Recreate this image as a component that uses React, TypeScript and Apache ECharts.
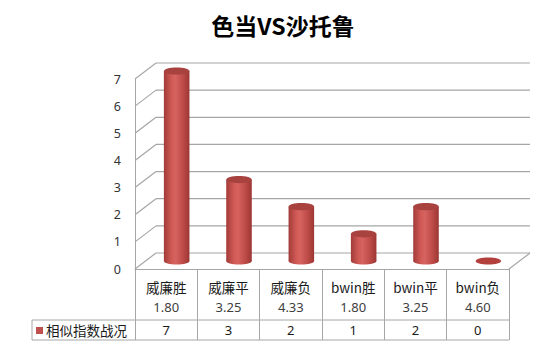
import React, { useEffect, useRef } from "react";
import * as echarts from "echarts";

const titleText = "色当VS沙托鲁";
const categories = ["威廉胜", "威廉平", "威廉负", "bwin胜", "bwin平", "bwin负"];
const odds = ["1.80", "3.25", "4.33", "1.80", "3.25", "4.60"];
const counts = [7, 3, 2, 1, 2, 0];
const seriesName = "相似指数战况";
const yTicks = [0, 1, 2, 3, 4, 5, 6, 7];

const DX = 21;
const DY = -16;
const HALF_DX = 10.5;
const HALF_DY = -8;
const GRID_COLOR = "#a6a6a6";

export default function App() {
  const ref = useRef<HTMLDivElement>(null);
  useEffect(() => {
    if (!ref.current) return;
    const chart = echarts.init(ref.current, undefined, { renderer: "svg" });
    const bodyGrad = {
      type: "linear", x: 0, y: 0, x2: 1, y2: 0,
      colorStops: [
        { offset: 0, color: "#a23b38" },
        { offset: 0.3, color: "#d05a56" },
        { offset: 0.45, color: "#d6635f" },
        { offset: 0.75, color: "#bd4b47" },
        { offset: 1, color: "#9c3633" },
      ],
    };
    const option: any = {
      animation: false,
      backgroundColor: "#ffffff",
      title: {
        text: titleText,
        left: 278,
        textAlign: "center",
        top: 8,
        textStyle: { fontFamily: "Noto Sans CJK SC", fontSize: 23, fontWeight: "bold", color: "#000" },
      },
      grid: { left: 135, right: 41, top: 79, bottom: 78 },
      xAxis: [
        {
          type: "category",
          data: categories,
          boundaryGap: true,
          axisLine: { show: true, lineStyle: { color: GRID_COLOR, width: 1 } },
          axisTick: { show: true, interval: 0, length: 71, lineStyle: { color: GRID_COLOR, width: 1 } },
          axisLabel: {
            interval: 0,
            margin: 8,
            formatter: (v: string, i: number) => `{n|${v}}\n{o|${odds[i]}}`,
            rich: {
              n: { fontFamily: "Noto Sans CJK SC", fontSize: 13.5, color: "#1a1a1a", lineHeight: 20 },
              o: { fontFamily: "Noto Sans", fontSize: 13, color: "#404040", lineHeight: 20 },
            },
          },
        },
        {
          type: "category",
          data: categories,
          position: "bottom",
          axisLine: { show: false },
          axisTick: { show: false },
          axisLabel: {
            interval: 0,
            margin: 51,
            formatter: (_v: string, i: number) => String(counts[i]),
            fontFamily: "Noto Sans",
            fontSize: 13,
            lineHeight: 20,
            color: "#1a1a1a",
          },
        },
      ],
      yAxis: {
        type: "value",
        min: 0,
        max: 7,
        interval: 1,
        axisLine: { show: true, lineStyle: { color: GRID_COLOR, width: 1 } },
        axisTick: { show: false },
        splitLine: { show: false },
        axisLabel: { margin: 14, fontFamily: "Noto Sans", fontSize: 12.5, color: "#333" },
      },
      series: [
        {
          type: "custom",
          name: "walls",
          silent: true,
          z: 1,
          xAxisIndex: 0,
          data: yTicks.map((v) => [0, v]),
          renderItem: (params: any, api: any) => {
            const v = api.value(1);
            const cs = params.coordSys;
            const y = api.coord([0, v])[1];
            const ls = { stroke: GRID_COLOR, lineWidth: 1.2, fill: null };
            const children: any[] = [
              { type: "line", shape: { x1: cs.x + DX, y1: y + DY, x2: cs.x + cs.width + DX, y2: y + DY }, style: ls },
              { type: "line", shape: { x1: cs.x, y1: y, x2: cs.x + DX, y2: y + DY }, style: ls },
            ];
            if (v === 0) {
              children.push({
                type: "line",
                shape: { x1: cs.x + cs.width, y1: y, x2: cs.x + cs.width + DX, y2: y + DY },
                style: ls,
              });
            }
            return { type: "group", children };
          },
        },
        {
          type: "custom",
          name: seriesName,
          z: 2,
          xAxisIndex: 0,
          data: counts.map((v, i) => [i, v]),
          encode: { x: 0, y: 1 },
          renderItem: (params: any, api: any) => {
            const idx = api.value(0);
            const v = api.value(1);
            const top = api.coord([idx, v]);
            const base = api.coord([idx, 0]);
            const w = api.size([1, 0])[0] * 0.41;
            const cx = base[0] + HALF_DX;
            const by = base[1] + HALF_DY;
            const ty = top[1] + HALF_DY;
            const ry = 3.6;
            const children: any[] = [];
            if (v > 0) {
              children.push({ type: "ellipse", shape: { cx, cy: by, rx: w / 2, ry }, style: { fill: bodyGrad } });
              children.push({ type: "rect", shape: { x: cx - w / 2, y: ty, width: w, height: by - ty }, style: { fill: bodyGrad } });
              children.push({ type: "ellipse", shape: { cx, cy: ty, rx: w / 2, ry }, style: { fill: "#a8423f" } });
            } else {
              children.push({ type: "ellipse", shape: { cx, cy: by, rx: w / 2, ry }, style: { fill: "#b3403d" } });
            }
            return { type: "group", children };
          },
        },
      ],
      graphic: [
        { type: "line", shape: { x1: 32, y1: 320, x2: 509, y2: 320 }, style: { stroke: GRID_COLOR, lineWidth: 1 }, silent: true },
        { type: "line", shape: { x1: 32, y1: 340, x2: 509, y2: 340 }, style: { stroke: GRID_COLOR, lineWidth: 1 }, silent: true },
        { type: "line", shape: { x1: 32, y1: 320, x2: 32, y2: 340 }, style: { stroke: GRID_COLOR, lineWidth: 1 }, silent: true },
        { type: "rect", shape: { x: 36, y: 327, width: 7, height: 7 }, style: { fill: "#c0504d" }, silent: true },
        {
          type: "text",
          x: 46,
          y: 330,
          style: {
            text: seriesName,
            fontFamily: "Noto Sans CJK SC",
            fontSize: 13.5,
            fill: "#1a1a1a",
            verticalAlign: "middle",
            align: "left",
          },
          silent: true,
        },
      ],
    };
    chart.setOption(option);
    return () => chart.dispose();
  }, []);
  return (
    <div
      ref={ref}
      style={{ position: "fixed", left: 0, top: 0, width: 550, height: 347, background: "#fff" }}
    />
  );
}
